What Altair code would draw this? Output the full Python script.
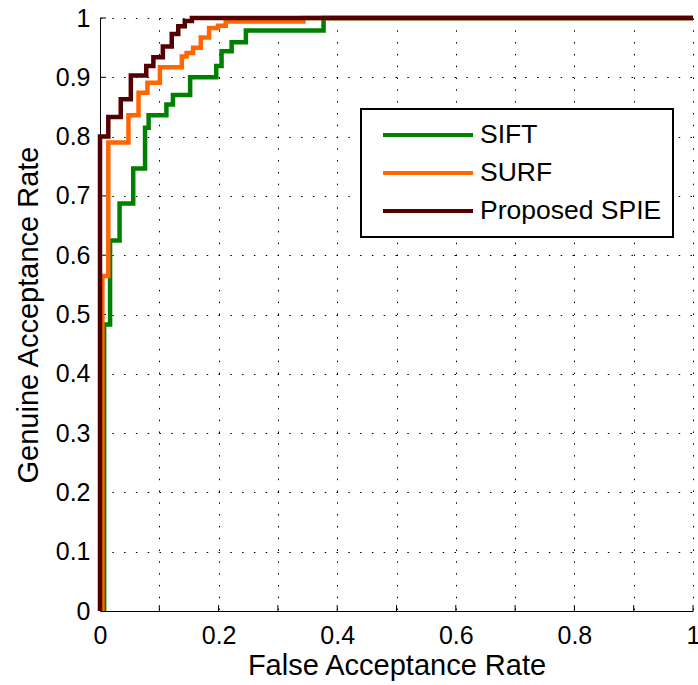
import altair as alt
import pandas as pd

methods = ["SIFT", "SURF", "Proposed SPIE"]
colors = ["#008000", "#ff6600", "#550000"]

sift_far = [0.007, 0.007, 0.017, 0.033, 0.056, 0.076, 0.082, 0.112, 0.123, 0.152,
            0.196, 0.205, 0.222, 0.246, 0.377, 1.0]
sift_gar = [0.0, 0.483, 0.625, 0.687, 0.746, 0.815, 0.836, 0.854, 0.870, 0.900,
            0.919, 0.944, 0.959, 0.979, 1.0, 1.0]

surf_far = [0.004, 0.004, 0.014, 0.048, 0.065, 0.080, 0.101, 0.138, 0.146, 0.157,
            0.170, 0.184, 0.199, 0.212, 0.343, 1.0]
surf_gar = [0.0, 0.565, 0.790, 0.836, 0.874, 0.891, 0.917, 0.935, 0.941, 0.950,
            0.967, 0.983, 0.987, 0.994, 1.0, 1.0]

spie_far = [0.0, 0.0, 0.014, 0.035, 0.052, 0.078, 0.090, 0.106, 0.121, 0.132,
            0.143, 0.155, 1.0]
spie_gar = [0.0, 0.800, 0.833, 0.863, 0.903, 0.919, 0.934, 0.952, 0.973, 0.986,
            0.995, 1.0, 1.0]

tick_values = [0.0, 0.1, 0.2, 0.3, 0.4, 0.5, 0.6, 0.7, 0.8, 0.9, 1.0]

FONT = "Liberation Sans"

frames = []
for m, xs, ys in [("SIFT", sift_far, sift_gar), ("SURF", surf_far, surf_gar),
                  ("Proposed SPIE", spie_far, spie_gar)]:
    frames.append(pd.DataFrame({"method": m, "far": xs, "gar": ys, "idx": range(len(xs))}))
df = pd.concat(frames, ignore_index=True)
ticks_df = pd.DataFrame({"t": tick_values})

x_scale = alt.Scale(domain=[0, 1], nice=False, zero=False)
y_scale = alt.Scale(domain=[0, 1], nice=False, zero=False)

x_axis = alt.Axis(
    values=tick_values, format="~g",
    labelExpr="round(datum.value*10) % 2 == 0 ? datum.label : ''",
    labelFlush=False, labelOverlap=False, ticks=False,
    grid=True, gridColor="black", gridDash=[1.5, 10.3], gridWidth=1, gridOpacity=1,
    domainColor="black", domainWidth=1,
    labelFont=FONT, labelFontSize=25, labelColor="black", labelPadding=12,
    title="False Acceptance Rate", titleFont=FONT, titleFontSize=29,
    titleFontWeight="normal", titleColor="black", titlePadding=3,
)
y_axis = alt.Axis(
    values=tick_values, format="~g",
    labelFlush=False, labelOverlap=False, ticks=False,
    grid=True, gridColor="black", gridDash=[1.5, 10.3], gridWidth=1, gridOpacity=1,
    domainColor="black", domainWidth=1,
    labelFont=FONT, labelFontSize=25, labelColor="black", labelPadding=10,
    title="Genuine Acceptance Rate", titleFont=FONT, titleFontSize=29,
    titleFontWeight="normal", titleColor="black", titlePadding=12,
)

color = alt.Color(
    "method:N",
    scale=alt.Scale(domain=methods, range=colors),
    legend=alt.Legend(
        title=None, orient="none", legendX=261, legendY=91,
        symbolType="stroke", symbolSize=8100, symbolStrokeWidth=4,
        clipHeight=30, rowPadding=8,
        labelFont=FONT, labelFontSize=26.5, labelColor="black", labelOffset=5,
        labelLimit=400,
        padding=11, symbolOffset=9,
        strokeColor="black", fillColor="white",
    ),
)

layers = []
for m in methods:
    layers.append(
        alt.Chart(df).transform_filter(alt.datum.method == m)
        .mark_line(interpolate="step-after", strokeWidth=4.5)
        .encode(
            x=alt.X("far:Q", scale=x_scale, axis=x_axis),
            y=alt.Y("gar:Q", scale=y_scale, axis=y_axis),
            color=color,
            order="idx:Q",
        )
    )

xticks = alt.Chart(ticks_df).mark_rule(color="black", strokeWidth=1).encode(
    x=alt.X("t:Q", scale=x_scale), y=alt.value(593), y2=alt.value(587)
)
yticks = alt.Chart(ticks_df).mark_rule(color="black", strokeWidth=1).encode(
    y=alt.Y("t:Q", scale=y_scale), x=alt.value(0), x2=alt.value(6)
)

chart = alt.layer(xticks, yticks, *layers).properties(
    width=593, height=593,
    autosize=alt.AutoSizeParams(type="none"),
    padding={"left": 100, "top": 18, "right": 5, "bottom": 74},
    background="white",
).configure_view(stroke=None).configure_legend(strokeWidth=2)

chart.save("out.html", embed_options={"renderer": "svg", "actions": False})
